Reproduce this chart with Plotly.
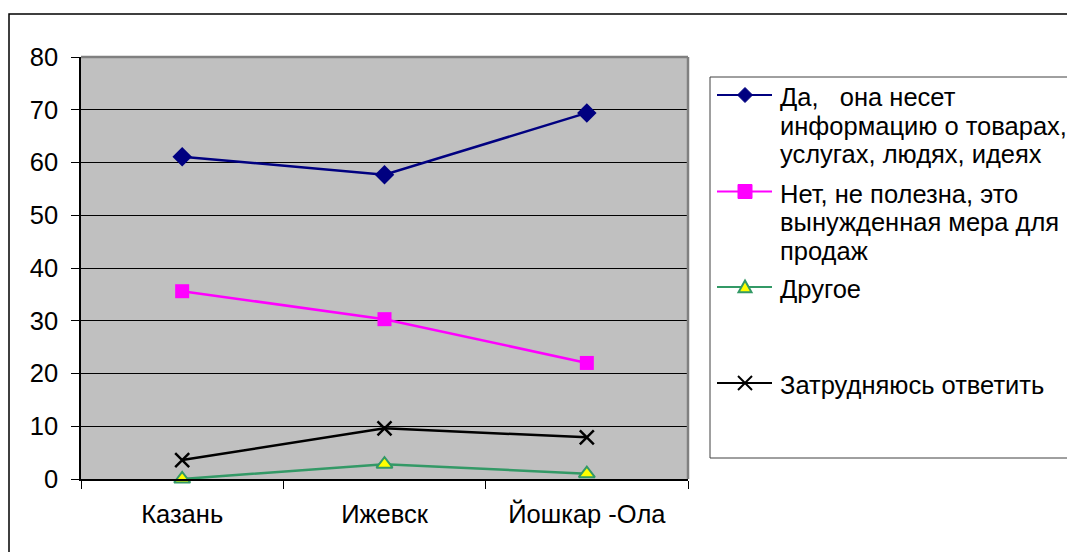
import plotly.graph_objects as go

# Survey results by city (percent of respondents)
cities = ["Казань", "Ижевск", "Йошкар -Ола"]

yes_values = [61.1, 57.7, 69.4]
no_values = [35.6, 30.3, 22.0]
other_values = [0.0, 2.8, 1.0]
unsure_values = [3.6, 9.6, 7.9]

legend_lines = [
    ["Да,   она несет", "информацию о товарах,", "услугах, людях, идеях"],
    ["Нет, не полезна, это", "вынужденная мера для", "продаж"],
    ["Другое"],
    ["Затрудняюсь ответить"],
]

y_ticks = [0, 10, 20, 30, 40, 50, 60, 70, 80]

W, H = 1067, 552
L, R, T, B = 81, 688, 57, 479  # plot-area pixel box
FS = 25.5
FONT = "Liberation Sans, Arial, sans-serif"


def px(x):
    return (x - L) / (R - L)


def py(y):
    return (B - y) / (B - T)


styles = [
    dict(line=dict(color="#000080", width=2.5),
         marker=dict(symbol="diamond", size=15, color="#000080")),
    dict(line=dict(color="#FF00FF", width=2.5),
         marker=dict(symbol="square", size=14, color="#FF00FF")),
    dict(line=dict(color="#339966", width=2.5),
         marker=dict(symbol="triangle-up", size=14, color="#FFFF00",
                     line=dict(color="#339966", width=2))),
    dict(line=dict(color="#000000", width=2.5),
         marker=dict(symbol="x-thin", size=14, color="#000000",
                     line=dict(color="#000000", width=2.5))),
]
series = [yes_values, no_values, other_values, unsure_values]

fig = go.Figure()
for name_lines, values, st in zip(legend_lines, series, styles):
    fig.add_trace(go.Scatter(
        x=cities, y=values, name=" ".join(name_lines), mode="lines+markers",
        cliponaxis=False, **st,
    ))

shapes = [
    # outer chart frame
    dict(type="rect", xref="paper", yref="paper",
         x0=px(9), x1=px(W + 20), y0=py(14), y1=py(H + 20),
         line=dict(color="#000000", width=1.5), layer="below"),
    # plot-area border (top and right)
    dict(type="line", xref="paper", yref="paper",
         x0=0, x1=1, y0=1, y1=1, line=dict(color="#808080", width=2.5)),
    dict(type="line", xref="paper", yref="paper",
         x0=1, x1=1, y0=0, y1=1, line=dict(color="#808080", width=2.5)),
    # legend box
    dict(type="rect", xref="paper", yref="paper",
         x0=px(710), x1=px(W + 20), y0=py(77), y1=py(458),
         line=dict(color="#404040", width=1), fillcolor="#FFFFFF"),
]
annotations = []

# legend keys and labels
key_x0, key_x1, key_xc, text_x = 717, 772, 745, 778
key_y = [95, 191.5, 287, 383]
line_step = 28.7
for i, (name_lines, st) in enumerate(zip(legend_lines, styles)):
    ky = key_y[i]
    color = st["line"]["color"]
    shapes.append(dict(type="line", xref="paper", yref="paper",
                       x0=px(key_x0), x1=px(key_x1), y0=py(ky), y1=py(ky),
                       line=dict(color=color, width=2)))
    sym = st["marker"]["symbol"]
    if sym == "diamond":
        r = 7.5
        pts = [(key_xc, ky - r), (key_xc + r, ky), (key_xc, ky + r), (key_xc - r, ky)]
        path = "M " + " L ".join(f"{px(a)},{py(b)}" for a, b in pts) + " Z"
        shapes.append(dict(type="path", xref="paper", yref="paper", path=path,
                           fillcolor=color, line=dict(color=color, width=1)))
    elif sym == "square":
        r = 7
        shapes.append(dict(type="rect", xref="paper", yref="paper",
                           x0=px(key_xc - r), x1=px(key_xc + r),
                           y0=py(ky - r), y1=py(ky + r),
                           fillcolor=color, line=dict(color=color, width=1)))
    elif sym == "triangle-up":
        r = 6.5
        pts = [(key_xc, ky - r), (key_xc + r, ky + r * 0.8), (key_xc - r, ky + r * 0.8)]
        path = "M " + " L ".join(f"{px(a)},{py(b)}" for a, b in pts) + " Z"
        shapes.append(dict(type="path", xref="paper", yref="paper", path=path,
                           fillcolor="#FFFF00", line=dict(color=color, width=2)))
    else:
        r = 7
        for dx in (-r, r):
            shapes.append(dict(type="line", xref="paper", yref="paper",
                               x0=px(key_xc - dx), x1=px(key_xc + dx),
                               y0=py(ky - r), y1=py(ky + r),
                               line=dict(color=color, width=2)))
    for j, txt in enumerate(name_lines):
        annotations.append(dict(
            xref="paper", yref="paper", x=px(text_x), y=py(ky + 2 + j * line_step),
            text=txt, showarrow=False, xanchor="left", yanchor="middle",
            font=dict(size=FS, family=FONT, color="#000000"),
        ))

fig.update_layout(
    width=W, height=H,
    margin=dict(l=L, r=W - R, t=T, b=H - B, autoexpand=False),
    paper_bgcolor="#FFFFFF",
    plot_bgcolor="#C0C0C0",
    font=dict(family=FONT, size=FS, color="#000000"),
    showlegend=False,
    shapes=shapes,
    annotations=annotations,
    xaxis=dict(
        type="category", tickson="boundaries", ticks="outside", ticklen=8,
        tickcolor="#000000", showline=True, linecolor="#000000", linewidth=1.5,
        showgrid=False, range=[-0.5, 2.5], tickfont=dict(size=FS),
        ticklabelstandoff=12,
    ),
    yaxis=dict(
        range=[0, 80], tickvals=y_ticks, ticks="outside", ticklen=8,
        tickcolor="#000000", showline=True, linecolor="#000000", linewidth=1.5,
        showgrid=True, gridcolor="#000000", gridwidth=1, zeroline=False,
        tickfont=dict(size=FS), ticklabelstandoff=8,
    ),
)

fig.write_html("out.html")
